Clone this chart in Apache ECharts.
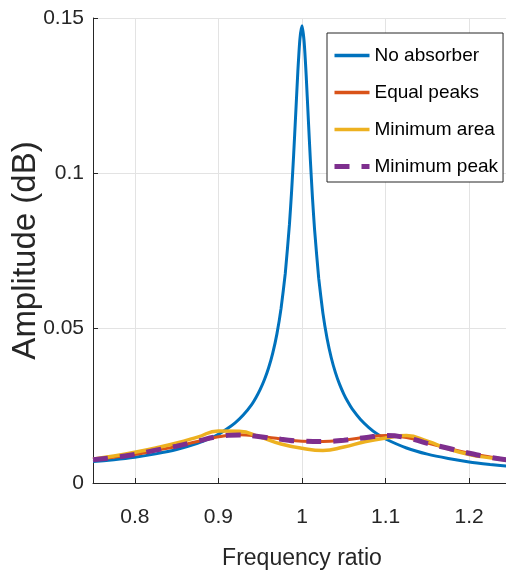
<!DOCTYPE html>
<html>
<head>
<meta charset="utf-8">
<script src="https://cdn.jsdelivr.net/npm/echarts@6/dist/echarts.min.js"></script>
<style>
html, body { margin: 0; padding: 0; background: #fff; }
#main { width: 506px; height: 577px; }
</style>
</head>
<body>
<div id="main"></div>
<script>
// frequency ratio samples (denser round the resonance)
var ratioPeak = [0.75, 0.775, 0.8, 0.825, 0.85, 0.875, 0.89, 0.9, 0.91, 0.92, 0.93, 0.94, 0.945, 0.95, 0.955, 0.96, 0.965, 0.97, 0.975,
    0.98, 0.985, 0.9875, 0.99, 0.9925, 0.995, 0.9975, 1.0, 1.0025, 1.005, 1.0075, 1.01, 1.0125, 1.015, 1.02, 1.025, 1.03, 1.035,
    1.04, 1.045, 1.05, 1.055, 1.06, 1.07, 1.08, 1.09, 1.1, 1.125, 1.15, 1.175, 1.2, 1.225, 1.25];
var noAbsorber = [0.0069, 0.0075, 0.0083, 0.0094, 0.0108, 0.0128, 0.0144, 0.0157, 0.0174, 0.0194, 0.0220, 0.0254, 0.0276, 0.0302, 0.0333, 0.0371, 0.0419, 0.0481, 0.0564,
    0.0676, 0.0835, 0.0938, 0.1058, 0.1192, 0.1326, 0.1432, 0.1475, 0.1425, 0.1315, 0.1177, 0.1042, 0.0921, 0.0819, 0.0660, 0.0548, 0.0466, 0.0404,
    0.0356, 0.0318, 0.0287, 0.0261, 0.0239, 0.0205, 0.0179, 0.0158, 0.0142, 0.0113, 0.0093, 0.0079, 0.0068, 0.0060, 0.0053];

var ratio = [0.75, 0.775, 0.8, 0.825, 0.85, 0.875, 0.9, 0.925, 0.95, 0.975, 1.0, 1.025, 1.05, 1.075, 1.1, 1.125, 1.15, 1.175, 1.2, 1.225, 1.25];
var equalPeaks = [0.0076, 0.0083, 0.0092, 0.0105, 0.0118, 0.0134, 0.0149, 0.0156, 0.0150, 0.0142, 0.0135, 0.0134, 0.0139, 0.0147, 0.0153, 0.0147, 0.0129, 0.0112, 0.0096, 0.0084, 0.0074];
var minimumArea = [0.0077, 0.0087, 0.0099, 0.0113, 0.0129, 0.0148, 0.0168, 0.0167, 0.0148, 0.0126, 0.0112, 0.0105, 0.0116, 0.0133, 0.0145, 0.0153, 0.0135, 0.0110, 0.0092, 0.0081, 0.0072];
var minimumPeak = [0.0075, 0.0082, 0.0092, 0.0106, 0.0119, 0.0135, 0.0150, 0.0155, 0.0149, 0.0141, 0.0135, 0.0134, 0.0138, 0.0146, 0.0153, 0.0146, 0.0128, 0.0112, 0.0096, 0.0083, 0.0073];

var seriesNames = ['No absorber', 'Equal peaks', 'Minimum area', 'Minimum peak'];

function pairs(xs, ys) {
    var ret = [];
    for (var i = 0; i < xs.length; i++) {
        ret.push([xs[i], ys[i]]);
    }
    return ret;
}

var font = '"Liberation Sans", Arial, sans-serif';
var chart = echarts.init(document.getElementById('main'));

var option = {
    animation: false,
    backgroundColor: '#fff',
    grid: { left: 93, right: -5, top: 18, bottom: 94, outerBoundsMode: 'none', containLabel: false },
    legend: {
        orient: 'vertical',
        left: 327,
        top: 33,
        padding: [11, 5, 4, 5],
        itemWidth: 35,
        itemHeight: 10,
        itemGap: 14,
        backgroundColor: '#fff',
        borderColor: '#262626',
        borderWidth: 1,
        borderRadius: 0,
        itemStyle: { opacity: 0 },
        textStyle: { fontFamily: font, fontSize: 19, lineHeight: 23, color: '#000' },
        data: [
            { name: seriesNames[0], lineStyle: { width: 3.5 } },
            { name: seriesNames[1], lineStyle: { width: 3.5 } },
            { name: seriesNames[2], lineStyle: { width: 3.5 } },
            { name: seriesNames[3], lineStyle: { width: 5 } }
        ]
    },
    xAxis: {
        type: 'value',
        min: 0.75,
        max: 1.25,
        splitNumber: 5,
        name: 'Frequency ratio',
        nameLocation: 'middle',
        nameGap: 64,
        nameMoveOverlap: false,
        nameTextStyle: { fontFamily: font, fontSize: 23, color: '#262626' },
        axisLine: { lineStyle: { color: '#262626', width: 1 } },
        axisTick: { inside: true, length: 5, lineStyle: { color: '#262626' } },
        axisLabel: { showMinLabel: false, showMaxLabel: false, margin: 24, fontFamily: font, fontSize: 21, color: '#262626' },
        splitLine: { show: true, lineStyle: { color: '#e3e3e3', width: 1 } }
    },
    yAxis: {
        type: 'value',
        min: 0,
        max: 0.15,
        interval: 0.05,
        name: 'Amplitude (dB)',
        nameLocation: 'middle',
        nameGap: 51,
        nameMoveOverlap: false,
        nameTextStyle: { fontFamily: font, fontSize: 33, color: '#262626' },
        axisLine: { show: true, lineStyle: { color: '#262626', width: 1 } },
        axisTick: { show: true, inside: true, length: 5, lineStyle: { color: '#262626' } },
        axisLabel: { margin: 9, fontFamily: font, fontSize: 21, color: '#262626' },
        splitLine: { show: true, lineStyle: { color: '#e3e3e3', width: 1 } }
    },
    series: [
        {
            name: seriesNames[0],
            type: 'line',
            symbol: 'none',
            smooth: 0.15,
            color: '#0072BD',
            lineStyle: { width: 3, color: '#0072BD' },
            data: pairs(ratioPeak, noAbsorber)
        },
        {
            name: seriesNames[1],
            type: 'line',
            symbol: 'none',
            smooth: true,
            color: '#D95319',
            lineStyle: { width: 3, color: '#D95319' },
            data: pairs(ratio, equalPeaks)
        },
        {
            name: seriesNames[2],
            type: 'line',
            symbol: 'none',
            smooth: true,
            color: '#EDB120',
            lineStyle: { width: 3.5, color: '#EDB120' },
            data: pairs(ratio, minimumArea)
        },
        {
            name: seriesNames[3],
            type: 'line',
            symbol: 'none',
            smooth: true,
            color: '#7E2F8E',
            lineStyle: { width: 5, color: '#7E2F8E', type: [15, 12] },
            data: pairs(ratio, minimumPeak)
        }
    ]
};
chart.setOption(option);
</script>
</body>
</html>
